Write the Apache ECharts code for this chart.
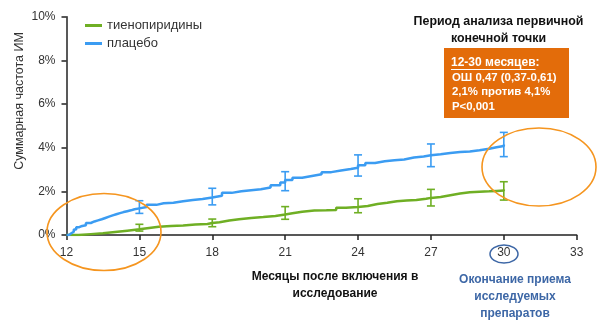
<!DOCTYPE html>
<html>
<head>
<meta charset="utf-8">
<script src="https://cdn.jsdelivr.net/npm/echarts@6/dist/echarts.min.js"></script>
<style>
  html, body { margin: 0; padding: 0; background: #fff; }
  #chart { width: 607px; height: 335px; }
</style>
</head>
<body>
<div id="chart"></div>
<script>
// Cumulative MI rate (%) by months since enrolment
const seriesNames = ['тиенопиридины', 'плацебо'];

const thienoMonths = [12, 12.5, 13, 13.5, 14, 14.5, 15, 15.4, 15.8, 16.3, 16.8, 17.3, 17.8, 18, 18.3, 18.7, 19.1, 19.6, 20.1, 20.6, 21, 21.3, 21.7, 22.2, 22.7, 23.1, 23.5, 24, 24.4, 24.8, 25.2, 25.6, 26, 26.4, 26.8, 27, 27.4, 27.8, 28.2, 28.6, 29, 29.4, 29.7, 30];
const thienoValues = [0, 0.04, 0.08, 0.14, 0.2, 0.26, 0.32, 0.38, 0.41, 0.44, 0.48, 0.5, 0.55, 0.58, 0.66, 0.72, 0.78, 0.82, 0.87, 0.94, 1.0, 1.07, 1.12, 1.13, 1.15, 1.25, 1.28, 1.33, 1.42, 1.48, 1.55, 1.58, 1.6, 1.66, 1.7, 1.74, 1.82, 1.9, 1.96, 1.98, 2.0, 2.02, 2.04, 2.08];

const placeboMonths = [12, 12.1, 12.2, 12.3, 12.4, 12.5, 12.6, 12.8, 13, 13.15, 13.3, 13.45, 13.6, 13.75, 13.9, 14.05, 14.2, 14.35, 14.5, 14.65, 14.8, 15, 15.3, 15.7, 16, 16.4, 16.8, 17.2, 17.6, 18, 18.4, 18.8, 19.2, 19.6, 20, 20.4, 20.8, 21, 21.3, 21.7, 22.1, 22.5, 22.9, 23.3, 23.7, 24, 24.3, 24.7, 25.1, 25.5, 25.9, 26.3, 26.7, 27, 27.4, 27.8, 28.2, 28.6, 29, 29.4, 29.7, 30];
const placeboValues = [0, 0.08, 0.15, 0.25, 0.35, 0.4, 0.45, 0.55, 0.62, 0.67, 0.72, 0.78, 0.84, 0.9, 0.95, 1.0, 1.05, 1.09, 1.13, 1.18, 1.22, 1.28, 1.38, 1.45, 1.48, 1.55, 1.6, 1.65, 1.72, 1.8, 1.93, 2.0, 2.05, 2.1, 2.18, 2.28, 2.4, 2.52, 2.62, 2.7, 2.78, 2.88, 2.95, 3.02, 3.08, 3.2, 3.3, 3.38, 3.42, 3.46, 3.55, 3.6, 3.65, 3.7, 3.76, 3.8, 3.82, 3.88, 3.95, 4.02, 4.08, 4.15];

// 95% CI at the checkpoints
const ciMonths = [15, 18, 21, 24, 27, 30];
const thienoLow = [0.18, 0.38, 0.72, 1.02, 1.33, 1.6];
const thienoHigh = [0.49, 0.73, 1.3, 1.66, 2.09, 2.44];
const placeboLow = [0.99, 1.38, 2.03, 2.7, 3.13, 3.59];
const placeboHigh = [1.57, 2.14, 2.9, 3.67, 4.17, 4.7];

const xTicks = { min: 12, max: 33, step: 3 };
const yTicks = { min: 0, max: 10, step: 2 };

const GREEN = '#6faf24';
const BLUE = '#3b9cf2';
const ORANGE_LINE = '#f5951f';
const BOX_FILL = '#e36c0a';
const NOTE_BLUE = '#3d67a6';

const zip = (a, b) => a.map((v, i) => [v, b[i]]);
const ciData = (low, high) => ciMonths.map((m, i) => [m, low[i], high[i]]);

function errorBar(color) {
  return function (params, api) {
    const top = api.coord([api.value(0), api.value(2)]);
    const bot = api.coord([api.value(0), api.value(1)]);
    const w = 4;
    const style = { stroke: color, lineWidth: 1.6 };
    return {
      type: 'group',
      children: [
        { type: 'line', shape: { x1: top[0], y1: top[1], x2: bot[0], y2: bot[1] }, style },
        { type: 'line', shape: { x1: top[0] - w, y1: top[1], x2: top[0] + w, y2: top[1] }, style },
        { type: 'line', shape: { x1: bot[0] - w, y1: bot[1], x2: bot[0] + w, y2: bot[1] }, style }
      ]
    };
  };
}

const chart = echarts.init(document.getElementById('chart'), null, { renderer: 'canvas' });

const SANS = 'Liberation Sans, Arial, sans-serif';
const BOLD = 'Liberation Sans, Arial, sans-serif';

// width of the underlined part of the box heading
const ctx = document.createElement('canvas').getContext('2d');
ctx.font = 'bold 12px ' + BOLD;
const headWidth = ctx.measureText('12-30 месяцев').width;

chart.setOption({
  animation: false,
  grid: { left: 66.5, right: 30.3, top: 16.7, height: 218.3, containLabel: false },
  legend: {
    data: seriesNames,
    orient: 'vertical',
    left: 80,
    top: 14,
    itemWidth: 17,
    itemHeight: 3,
    itemGap: 5,
    icon: 'rect',
    textStyle: { fontFamily: SANS, fontSize: 13, color: '#333' }
  },
  xAxis: {
    type: 'value',
    min: xTicks.min, max: xTicks.max, interval: xTicks.step,
    axisLine: { lineStyle: { color: '#222', width: 1.5 } },
    axisTick: { show: true, length: 5, lineStyle: { color: '#222', width: 1.5 } },
    axisLabel: { fontFamily: SANS, fontSize: 12, color: '#333', margin: 12 },
    splitLine: { show: false }
  },
  yAxis: {
    type: 'value',
    min: yTicks.min, max: yTicks.max, interval: yTicks.step,
    axisLine: { show: true, lineStyle: { color: '#222', width: 1.5 } },
    axisTick: { show: true, length: 5, lineStyle: { color: '#222', width: 1.5 } },
    axisLabel: { fontFamily: SANS, fontSize: 12, color: '#333', margin: 11, formatter: '{value}%' },
    splitLine: { show: false }
  },
  series: [
    {
      name: seriesNames[0], type: 'line', step: 'end', showSymbol: false, symbol: 'none',
      data: zip(thienoMonths, thienoValues),
      lineStyle: { color: GREEN, width: 2.5 }, itemStyle: { color: GREEN }, z: 3
    },
    {
      name: seriesNames[1], type: 'line', step: 'end', showSymbol: false, symbol: 'none',
      data: zip(placeboMonths, placeboValues),
      lineStyle: { color: BLUE, width: 2.5 }, itemStyle: { color: BLUE }, z: 3
    },
    {
      name: 'ci-thieno', type: 'custom', renderItem: errorBar(GREEN),
      data: ciData(thienoLow, thienoHigh), encode: { x: 0, y: [1, 2] }, z: 4
    },
    {
      name: 'ci-placebo', type: 'custom', renderItem: errorBar(BLUE),
      data: ciData(placeboLow, placeboHigh), encode: { x: 0, y: [1, 2] }, z: 4
    }
  ],
  graphic: [
    // y-axis title
    {
      type: 'text', x: 20, y: 101, rotation: Math.PI / 2,
      style: { text: 'Суммарная частота ИМ', font: '12.5px ' + SANS, fill: '#333', align: 'center', verticalAlign: 'middle' }
    },
    // x-axis title
    {
      type: 'text', x: 335, y: 285,
      style: { text: 'Месяцы после включения в\nисследование', font: 'bold 12px ' + BOLD, fill: '#111', align: 'center', verticalAlign: 'middle', lineHeight: 17 }
    },
    // end of treatment note
    {
      type: 'text', x: 515, y: 296.5,
      style: { text: 'Окончание приема\nисследуемых\nпрепаратов', font: 'bold 12px ' + BOLD, fill: NOTE_BLUE, align: 'center', verticalAlign: 'middle', lineHeight: 17 }
    },
    { type: 'ellipse', shape: { cx: 504, cy: 254, rx: 14, ry: 9 }, style: { fill: 'none', stroke: NOTE_BLUE, lineWidth: 1.5 }, z: 10 },
    // analysis period heading
    {
      type: 'text', x: 498.5, y: 30,
      style: { text: 'Период анализа первичной\nконечной точки', font: 'bold 12.4px ' + BOLD, fill: '#111', align: 'center', verticalAlign: 'middle', lineHeight: 16.6 }
    },
    { type: 'rect', shape: { x: 444, y: 48, width: 125, height: 70 }, style: { fill: BOX_FILL }, z: 5 },
    {
      type: 'text', x: 451, y: 62.5, z: 6,
      style: { text: '12-30 месяцев:', font: 'bold 12px ' + BOLD, fill: '#fff', verticalAlign: 'middle' }
    },
    { type: 'line', z: 6, shape: { x1: 451, y1: 69.5, x2: 451 + headWidth, y2: 69.5 }, style: { stroke: '#fff', lineWidth: 1 } },
    {
      type: 'text', x: 452, y: 92.2, z: 6,
      style: { text: 'ОШ 0,47 (0,37-0,61)\n2,1% против 4,1%\nP<0,001', font: 'bold 11.4px ' + BOLD, fill: '#fff', verticalAlign: 'middle', lineHeight: 14.8 }
    },
    // highlighted regions
    { type: 'ellipse', shape: { cx: 104, cy: 232, rx: 57, ry: 38.5 }, style: { fill: 'none', stroke: ORANGE_LINE, lineWidth: 1.6 }, z: 10 },
    { type: 'ellipse', shape: { cx: 539, cy: 167, rx: 57, ry: 39 }, style: { fill: 'none', stroke: ORANGE_LINE, lineWidth: 1.6 }, z: 10 }
  ]
});
</script>
</body>
</html>
